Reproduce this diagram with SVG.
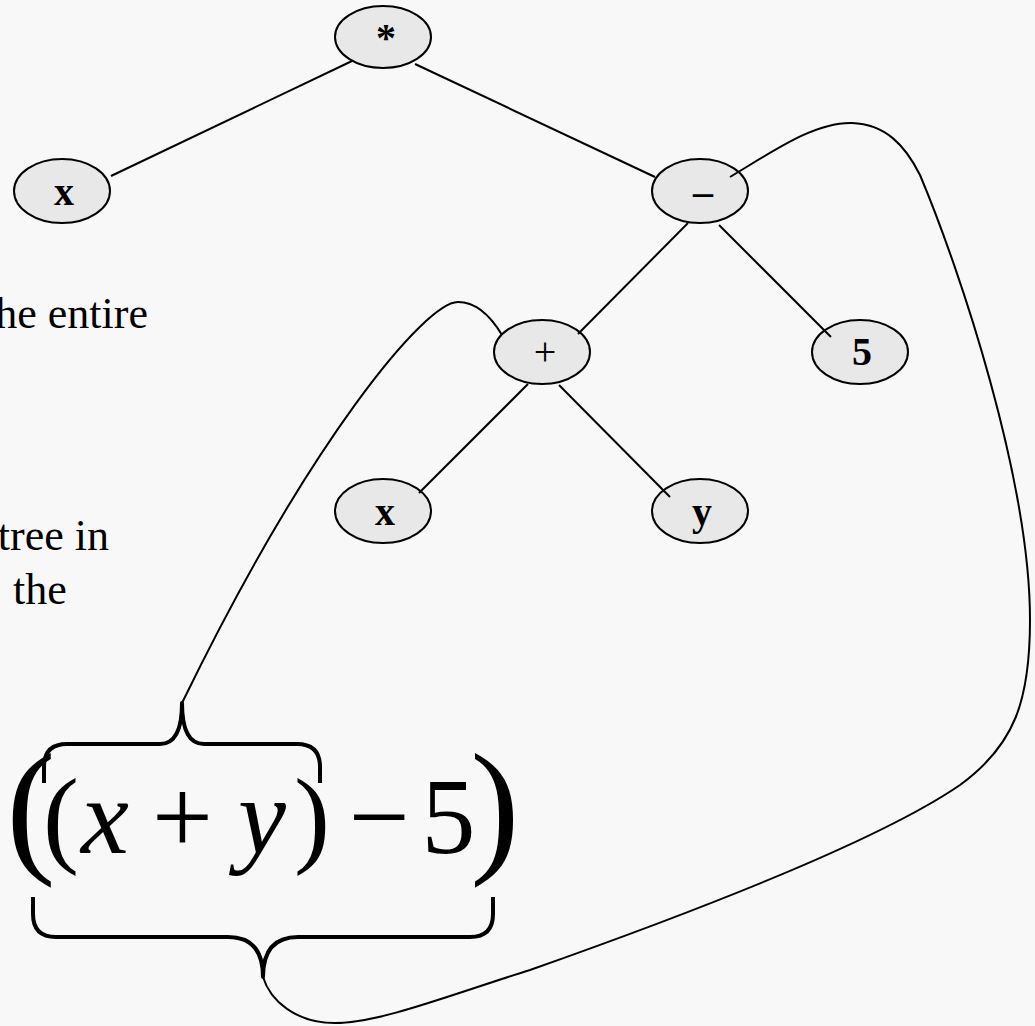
<svg xmlns="http://www.w3.org/2000/svg" width="1035" height="1026" viewBox="0 0 1035 1026">
<style>
.node ellipse{fill:#e8e8e8;stroke:#000;stroke-width:2}
.lbl{font-family:"Liberation Serif","Times New Roman",serif;font-size:40px;text-anchor:middle;fill:#000}
.b{font-weight:bold}
.edge{stroke:#000;stroke-width:2;fill:none}
.side{font-family:"Liberation Serif","Times New Roman",serif;font-size:44px;fill:#000}
.m{font-family:"Liberation Serif","Times New Roman",serif;font-size:108px;fill:#000;text-anchor:middle}
.mi{font-style:italic}
.big{font-size:148px}
.brace{stroke:#000;stroke-width:4;fill:none;stroke-linejoin:round}
</style>
<rect width="1035" height="1026" fill="#f8f8f8"/>
<g id="side-text">
<text class="side" x="148" y="328" text-anchor="end">he entire</text>
<text class="side" x="109" y="550" text-anchor="end">tree in</text>
<text class="side" x="13" y="604">the</text>
</g>
<g id="node-times" class="node"><ellipse cx="383" cy="37" rx="48" ry="31"/><text class="lbl b" x="386" y="51">*</text></g>
<g id="node-x1" class="node"><ellipse cx="62" cy="191" rx="48" ry="32"/><text class="lbl b" x="64" y="205">x</text></g>
<g id="node-minus" class="node"><ellipse cx="700" cy="191" rx="48" ry="32"/><text class="lbl b" x="703" y="205">–</text></g>
<g id="node-plus" class="node"><ellipse cx="542" cy="352" rx="48" ry="32"/><text class="lbl" x="545" y="365">+</text></g>
<g id="node-5" class="node"><ellipse cx="860" cy="352" rx="48" ry="32"/><text class="lbl b" x="862" y="365">5</text></g>
<g id="node-x2" class="node"><ellipse cx="383" cy="511" rx="48" ry="32"/><text class="lbl b" x="385" y="525">x</text></g>
<g id="node-y" class="node"><ellipse cx="700" cy="511" rx="48" ry="32"/><text class="lbl b" x="702" y="525">y</text></g>
<g id="expression">
<text class="m big" x="31" y="856">(</text>
<text class="m" x="61" y="853">(</text>
<text class="m mi" x="105" y="853">x</text>
<text class="m" x="182.5" y="853">+</text>
<text class="m mi" x="262" y="853">y</text>
<text class="m" x="312" y="853">)</text>
<text class="m" x="379" y="853">−</text>
<text class="m" x="448.5" y="853">5</text>
<text class="m big" x="495" y="856">)</text>
<path class="brace" d="M44 783 L44 767 Q44 744 67 744 L160 744 Q182 744 182 703 Q182 744 204 744 L297 744 Q320 744 320 767 L320 783"/>
<path class="brace" d="M33 897 L33 914 Q33 937 56 937 L228 937 Q263 937 263 977 Q263 937 298 937 L470 937 Q493 937 493 914 L493 897"/>
</g>
<g id="connectors">
<line class="edge" x1="352" y1="61" x2="111" y2="176"/>
<line class="edge" x1="415" y1="64" x2="655" y2="177"/>
<line class="edge" x1="688" y1="223" x2="578" y2="334"/>
<line class="edge" x1="719" y1="225" x2="831" y2="337"/>
<line class="edge" x1="528" y1="384" x2="419" y2="493"/>
<line class="edge" x1="559" y1="385" x2="670" y2="497"/>
<path class="edge" d="M502 335 C490 315 475 302 458 302 C425 302 310 440 182 703"/>
<path class="edge" d="M730 177 C775 150 815 122 852 123 C885 124 905 145 920 175 C960 270 1030 480 1030 620 C1030 700 1015 745 960 785 C880 840 700 910 530 970 C450 995 380 1023 335 1023 C295 1023 270 1000 263 977"/>
</g>
</svg>
